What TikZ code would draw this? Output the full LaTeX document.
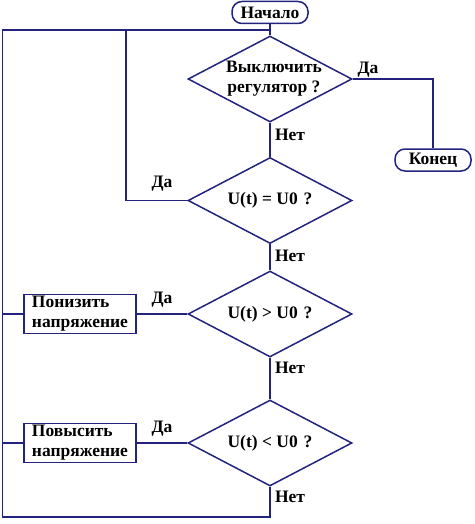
\documentclass[tikz,border=0pt]{standalone}
\usepackage{fontspec}
\setmainfont{Liberation Serif}
\usetikzlibrary{shapes.geometric}
\definecolor{linecol}{RGB}{35,35,125}
\begin{document}
\begin{tikzpicture}[x=1pt,y=-1pt,line width=1.5pt,
	font=\fontsize{17.5}{20}\selectfont\bfseries,
	term/.style={draw=linecol,rounded corners=10pt,minimum width=76pt,minimum height=22pt,inner sep=1pt},
	cond/.style={draw=linecol,diamond,aspect=1.9,minimum width=164pt,minimum height=86pt,inner sep=-6pt,align=center},
	act/.style={draw=linecol,minimum width=112pt,minimum height=39pt,inner sep=2pt,align=left,line width=1.2pt},
	link/.style={draw=linecol}]
	\useasboundingbox (0,0) rectangle (474,524);

	%terminals
	\node[term] (start) at (270,12.5) {Начало};
	\node[term] (stop) at (433,160) {Конец};

	%conditions
	\node[cond] (off) at (270,79) {\hspace*{8pt}Выключить\\\hspace*{8pt}регулятор ?};
	\node[cond] (eq) at (270,200.5) {U(t) = U0\,\,?};
	\node[cond] (gt) at (270,314) {U(t) > U0\,\,?};
	\node[cond] (lt) at (270,443) {U(t) < U0\,\,?};

	%actions
	\node[act] (down) at (80,314) {Понизить\\напряжение};
	\node[act] (up) at (80,443) {Повысить\\напряжение};

	%loop corners
	\coordinate (join) at (270,30);
	\coordinate (mid) at (126,30);
	\coordinate (topleft) at (2.5,30);
	\coordinate (botleft) at (2.5,517);
	\coordinate (botright) at (270,517);

	%connectors
	\draw[link] (start) -- (off); %start to first test
	\draw[link] (off) -- (eq);
	\draw[link] (eq) -- (gt);
	\draw[link] (gt) -- (lt);
	\draw[link] (off.east) -| (stop.north); %exit
	\draw[link] (eq.west) -| (mid); %back to top
	\draw[link] (gt.west) -- (down.east);
	\draw[link] (lt.west) -- (up.east);
	\draw[link] (down.west) -- (down.west -| topleft);
	\draw[link] (up.west) -- (up.west -| topleft);
	\draw[link] (lt.south) -- (botright) -- (botleft) -- (topleft) -- (join); %main loop

	%labels
	\node (y1) at (368,70) {Да};
	\node (y2) at (162,184) {Да};
	\node (y3) at (162,300) {Да};
	\node (y4) at (162,429) {Да};
	\node (n1) at (290,135) {Нет};
	\node (n2) at (290,256) {Нет};
	\node (n3) at (290,368) {Нет};
	\node (n4) at (290,497) {Нет};
\end{tikzpicture}
\end{document}
